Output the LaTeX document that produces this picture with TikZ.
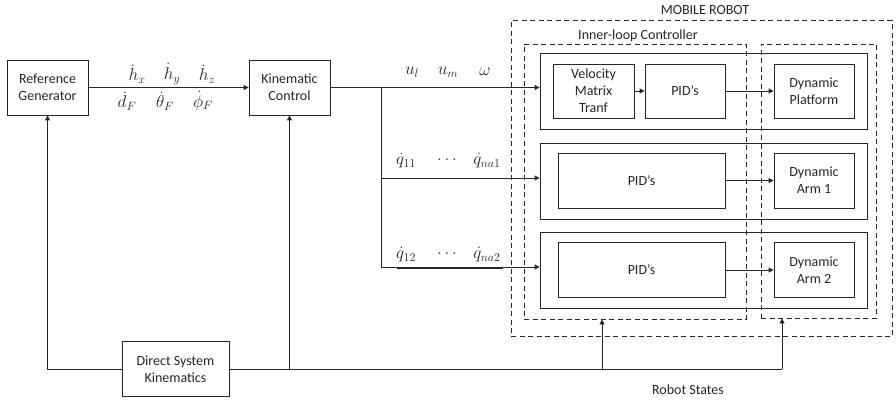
\documentclass[tikz,border=0pt]{standalone}
\usepackage{fontspec}
\setmainfont{Carlito}
\usetikzlibrary{arrows.meta}
\begin{document}
\begin{tikzpicture}[x=1pt,y=-1pt,line width=0.8pt,color=black!85,
  blk/.style={draw,rectangle,align=center,inner sep=0pt,font=\fontsize{14}{17}\selectfont},
  dbox/.style={draw,rectangle,dash pattern=on 5pt off 3.5pt,inner sep=0pt},
  lbl/.style={inner sep=0pt,font=\fontsize{14}{17}\selectfont},
  mlbl/.style={inner sep=0pt,font=\fontsize{17}{20}\selectfont},
  arr/.style={-{Triangle[length=5pt,width=5pt]}}]
\useasboundingbox (0,0) rectangle (896,401);
% main blocks
\node[blk,minimum width=81pt,minimum height=55pt] (ref) at (47.5,87.5) {Reference\\Generator};
\node[blk,minimum width=81pt,minimum height=55pt] (kin) at (289.5,87.5) {Kinematic\\Control};
\node[blk,minimum width=107pt,minimum height=55pt] (dsk) at (175.5,369) {Direct System\\Kinematics};
% dashed boxes
\node[dbox,minimum width=381pt,minimum height=316pt] (outer) at (701.5,178.7) {};
\node[dbox,minimum width=222pt,minimum height=275pt] (inner) at (635,181.5) {};
\node[dbox,minimum width=115pt,minimum height=274pt] (dynbox) at (818.5,181) {};
\node[lbl] (mr) at (705,10) {MOBILE ROBOT};
\node[lbl] (ilc) at (638,36) {Inner-loop Controller};
\node[lbl] (rs) at (688,390) {Robot States};
% rows
\node[blk,minimum width=327pt,minimum height=76pt] (row1) at (703.5,91) {};
\node[blk,minimum width=327pt,minimum height=76pt] (row2) at (703.5,181) {};
\node[blk,minimum width=327pt,minimum height=76pt] (row3) at (703.5,270) {};
\node[blk,minimum width=81pt,minimum height=54pt] (vmt) at (593.5,91) {Velocity\\Matrix\\Tranf};
\node[blk,minimum width=80pt,minimum height=54pt] (pid1) at (685,91) {PID’s};
\node[blk,minimum width=80pt,minimum height=54pt] (dynp) at (814,91) {Dynamic\\Platform};
\node[blk,minimum width=167pt,minimum height=55pt] (pid2) at (641.5,180.5) {PID’s};
\node[blk,minimum width=80pt,minimum height=55pt] (dyna1) at (814,180.5) {Dynamic\\Arm 1};
\node[blk,minimum width=167pt,minimum height=55pt] (pid3) at (641.5,270) {PID’s};
\node[blk,minimum width=80pt,minimum height=55pt] (dyna2) at (814,270) {Dynamic\\Arm 2};
% forward connectors
\draw[arr] (ref.east) -- (kin.west);
\draw[line width=1.2pt] (115,87.5) -- (220,87.5);
\coordinate (br) at (381,87.5);
\draw[arr] (kin.east) -- (kin.east -| row1.west);
\draw[arr] (br) |- ([yshift=3pt]row2.west);
\draw[arr] (br) |- ([yshift=3pt]row3.west);
\draw[line width=0.9pt] (397,268.8) -- (503,268.8);
\draw[arr] (vmt.east) -- (pid1.west);
\draw[arr] (pid1.east) -- (pid1.east -| dynp.west);
\draw[arr] (pid2.east) -- (pid2.east -| dyna1.west);
\draw[arr] (pid3.east) -- (pid3.east -| dyna2.west);
% feedback
\coordinate (j1) at (602,369);
\coordinate (j2) at (782,369);
\draw[arr] (dsk.west) -| (ref.south);
\draw[arr] (dsk.east) -| (kin.south);
\draw (dsk.east) -- (j2);
\draw[arr] (j1) -- (j1 |- inner.south);
\draw[arr] (j2) -- (j2 |- dynbox.south);
% labels
\node[mlbl] (l1) at (137,74) {$\dot{h}_x$};
\node[mlbl] (l2) at (172,74) {$\dot{h}_y$};
\node[mlbl] (l3) at (207,74) {$\dot{h}_z$};
\node[mlbl] (l4) at (127,101) {$\dot{d}_F$};
\node[mlbl] (l5) at (165,101) {$\dot{\theta}_F$};
\node[mlbl] (l6) at (203,101) {$\dot{\phi}_F$};
\node[mlbl] (u1) at (412,72) {$u_l$};
\node[mlbl] (u2) at (448,72) {$u_m$};
\node[mlbl] (u3) at (485,72) {$\omega$};
\node[mlbl] (q1) at (406,161) {$\dot{q}_{11}$};
\node[mlbl] (q2) at (447,160) {$\dots$};
\node[mlbl] (q3) at (487,161) {$\dot{q}_{na1}$};
\node[mlbl] (q4) at (406,255) {$\dot{q}_{12}$};
\node[mlbl] (q5) at (447,254) {$\dots$};
\node[mlbl] (q6) at (487,255) {$\dot{q}_{na2}$};
\end{tikzpicture}
\end{document}
